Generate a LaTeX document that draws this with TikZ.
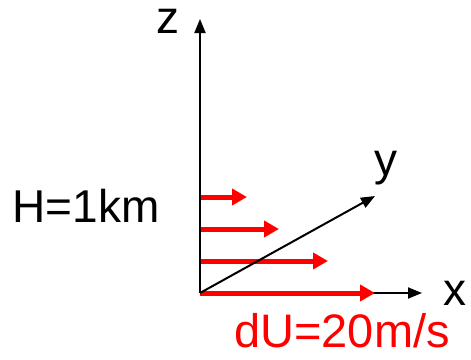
\documentclass[tikz,border=0pt]{standalone}
\usepackage{fontspec}
\setmainfont{Liberation Sans}
\usetikzlibrary{arrows.meta}
\begin{document}
\begin{tikzpicture}[x=1pt,y=-1pt,
  axis/.style={draw=black,line width=2pt,-{Triangle[length=14pt,width=11pt]}},
  flow/.style={draw=red,line width=5pt,-{Triangle[length=15pt,width=16pt]}},
  lbl/.style={inner sep=0pt,font=\fontsize{46}{46}\selectfont}]
\useasboundingbox (0,0) rectangle (471,359);
\coordinate (O) at (200,293);
\coordinate (Z) at (200,19);
\coordinate (X) at (422,293);
\coordinate (Y) at (375,196);
\coordinate (a1) at (200,197); \coordinate (b1) at (247,197);
\coordinate (a2) at (200,229); \coordinate (b2) at (279,229);
\coordinate (a3) at (200,261); \coordinate (b3) at (328,261);
\coordinate (a4) at (200,293); \coordinate (b4) at (375,293);
\draw[axis] (O) -- (X);
\draw[flow] (a1) -- (b1);
\draw[flow] (a2) -- (b2);
\draw[flow] (a3) -- (b3);
\draw[flow] (a4) -- (b4);
\draw[axis] (O) -- (Y);
\draw[axis] (O) -- (Z);
\node[lbl,anchor=base,text height=24pt,text depth=0pt] (zl) at (168,33) {z};
\node[lbl,anchor=base] (yl) at (386,175) {y};
\node[lbl,anchor=base] (xl) at (455,305) {x};
\node[lbl,anchor=base] (hl) at (86,222) {H=1km};
\node[lbl,anchor=base,text=red,font=\fontsize{47}{47}\selectfont] (du) at (342,347) {dU=20m/s};
\end{tikzpicture}
\end{document}
